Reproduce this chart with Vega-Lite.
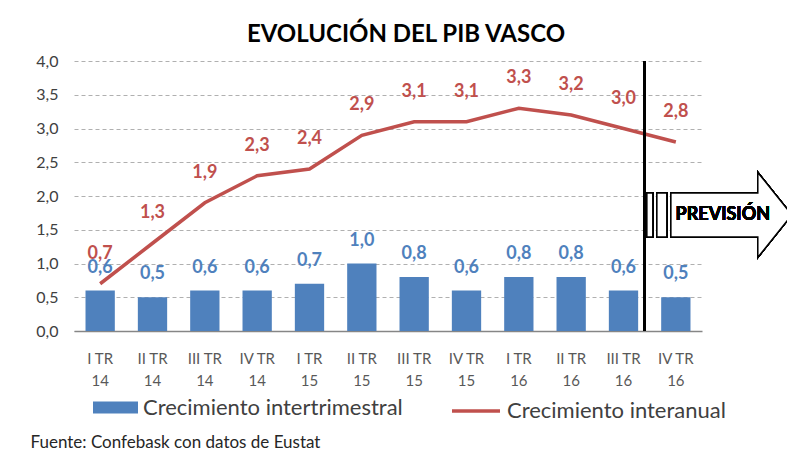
{
  "$schema": "https://vega.github.io/schema/vega-lite/v6.json",
  "width": 628,
  "height": 270,
  "autosize": {"type": "none"},
  "padding": {"left": 74, "top": 61, "right": 85, "bottom": 122},
  "background": "white",
  "title": {
    "text": "EVOLUCIÓN DEL PIB VASCO",
    "font": "Lato",
    "fontSize": 24,
    "fontWeight": "bold",
    "color": "#000000",
    "anchor": "middle",
    "dx": 18,
    "dy": 32,
    "baseline": "alphabetic",
    "offset": 19
  },
  "config": {
    "locale": {"number": {"decimal": ",", "thousands": ".", "grouping": [3], "currency": ["", " €"]}},
    "view": {"stroke": null},
    "font": "Lato",
    "axisY": {
      "tickCount": 8,
      "labelOverlap": false,
      "labelFont": "Lato",
      "labelFontSize": 16,
      "labelColor": "#404040",
      "labelPadding": 16,
      "ticks": false,
      "domain": false,
      "grid": true,
      "gridColor": "#b0b0b0",
      "gridDash": [4, 3],
      "gridWidth": 1
    }
  },
  "data": {
    "values": [
      {"q": "I TR 14", "inter": 0.6, "anual": 0.7},
      {"q": "II TR 14", "inter": 0.5, "anual": 1.3},
      {"q": "III TR 14", "inter": 0.6, "anual": 1.9},
      {"q": "IV TR 14", "inter": 0.6, "anual": 2.3},
      {"q": "I TR 15", "inter": 0.7, "anual": 2.4},
      {"q": "II TR 15", "inter": 1.0, "anual": 2.9},
      {"q": "III TR 15", "inter": 0.8, "anual": 3.1},
      {"q": "IV TR 15", "inter": 0.6, "anual": 3.1},
      {"q": "I TR 16", "inter": 0.8, "anual": 3.3},
      {"q": "II TR 16", "inter": 0.8, "anual": 3.2},
      {"q": "III TR 16", "inter": 0.6, "anual": 3.0},
      {"q": "IV TR 16", "inter": 0.5, "anual": 2.8}
    ]
  },
  "encoding": {
    "x": {
      "field": "q",
      "type": "nominal",
      "sort": null,
      "scale": {"paddingInner": 0, "paddingOuter": 0},
      "axis": {
        "title": "Fuente: Confebask con datos de Eustat",
        "titleFont": "Lato",
        "titleFontSize": 17,
        "titleFontWeight": "normal",
        "titleColor": "#262626",
        "titleAnchor": "start",
        "titleAlign": "left",
        "titleBaseline": "middle",
        "titleX": -44,
        "titleY": 111,
        "labelAngle": 0,
        "labelExpr": "[slice(datum.value, 0, -3), slice(datum.value, -2)]",
        "labelFont": "Lato",
        "labelFontSize": 15,
        "labelColor": "#595959",
        "labelLineHeight": 22,
        "labelPadding": 20,
        "ticks": false,
        "domainColor": "#868686",
        "domainWidth": 1.5,
        "grid": false
      }
    }
  },
  "layer": [
    {
      "mark": {"type": "bar", "width": {"band": 0.56}},
      "encoding": {
        "y": {
          "field": "inter",
          "type": "quantitative",
          "title": null,
          "scale": {"domain": [0, 4], "nice": false}
        },
        "fill": {
          "datum": "Crecimiento intertrimestral",
          "type": "nominal",
          "scale": {"range": ["#4F81BD"]},
          "legend": {
            "orient": "none",
            "legendX": 19,
            "legendY": 324,
            "title": null,
            "symbolType": "M-1,-0.27L1,-0.27L1,0.27L-1,0.27Z",
            "symbolSize": 2025,
            "symbolStrokeWidth": 0,
            "symbolOpacity": 1,
            "labelFont": "Lato",
            "labelFontSize": 22,
            "labelColor": "#404040",
            "labelOffset": 5,
            "labelLimit": 400
          }
        }
      }
    },
    {
      "mark": {"type": "text", "font": "Lato", "fontSize": 18, "fontWeight": "bold", "color": "#4F81BD", "baseline": "middle", "dy": -23},
      "encoding": {
        "y": {"field": "inter", "type": "quantitative", "title": null},
        "text": {"field": "inter", "type": "quantitative", "format": ".1f"}
      }
    },
    {
      "mark": {"type": "line", "strokeWidth": 3.5},
      "encoding": {
        "y": {"field": "anual", "type": "quantitative", "title": null},
        "stroke": {
          "datum": "Crecimiento interanual",
          "type": "nominal",
          "scale": {"range": ["#C0504D"]},
          "legend": {
            "orient": "none",
            "legendX": 376,
            "legendY": 324,
            "title": null,
            "symbolType": "stroke",
            "symbolSize": 2304,
            "symbolStrokeWidth": 3.5,
            "labelFont": "Lato",
            "labelFontSize": 22,
            "labelColor": "#404040",
            "labelOffset": 5,
            "labelLimit": 400
          }
        }
      }
    },
    {
      "mark": {"type": "text", "font": "Lato", "fontSize": 18, "fontWeight": "bold", "color": "#C0504D", "baseline": "middle", "dy": -30},
      "encoding": {
        "y": {"field": "anual", "type": "quantitative", "title": null},
        "text": {"field": "anual", "type": "quantitative", "format": ".1f"}
      }
    },
    {
      "mark": {"type": "rule", "color": "#000000", "strokeWidth": 2, "xOffset": -5},
      "encoding": {
        "x": {"datum": "IV TR 16", "bandPosition": 0},
        "y": {"datum": 0, "title": null},
        "y2": {"datum": 4}
      }
    },
    {
      "mark": {
        "type": "point",
        "shape": "M-0.071,-0.314L1.171,-0.314L1.171,-0.607L1.657,0L1.171,0.607L1.171,0.314L-0.071,0.314Z M-0.414,-0.314L-0.329,-0.314L-0.329,0.314L-0.414,0.314Z M-0.271,-0.314L-0.129,-0.314L-0.129,0.314L-0.271,0.314Z",
        "filled": true,
        "fill": "#ffffff",
        "stroke": "#000000",
        "strokeWidth": 1.5,
        "opacity": 1,
        "size": 19600
      },
      "encoding": {
        "x": {"datum": "IV TR 16"},
        "y": {"datum": 1.72, "title": null}
      }
    },
    {
      "mark": {"type": "text", "text": "PREVISIÓN", "font": "Lato", "fontSize": 18, "fontWeight": "bold", "color": "#000000", "baseline": "middle", "dx": 47},
      "encoding": {
        "x": {"datum": "IV TR 16"},
        "y": {"datum": 1.72, "title": null}
      }
    }
  ]
}
